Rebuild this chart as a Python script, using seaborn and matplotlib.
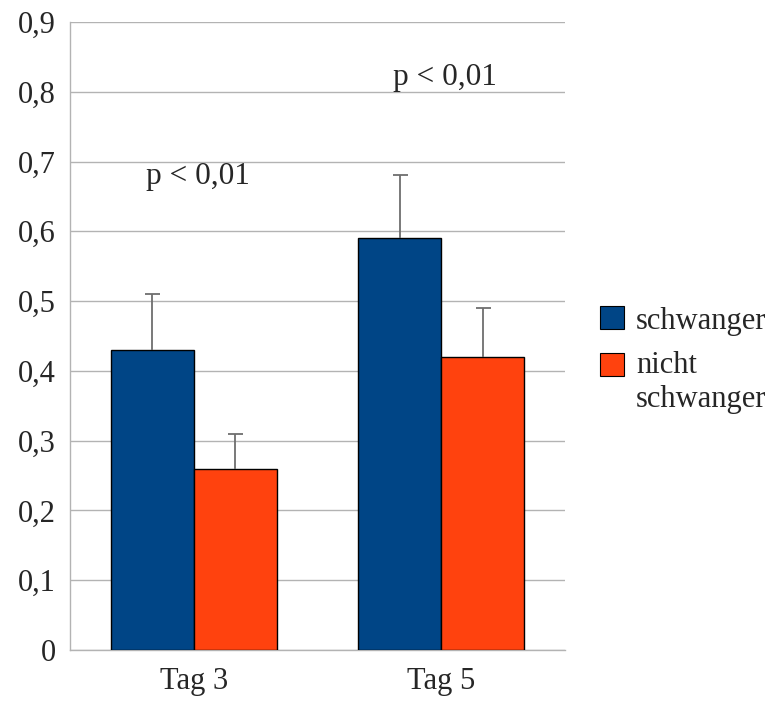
import pandas as pd
import seaborn as sns
import matplotlib.pyplot as plt
from matplotlib.ticker import FuncFormatter, FixedLocator
from matplotlib.patches import Patch

# Data
tage = ["Tag 3", "Tag 5"]
gruppen = ["schwanger", "nicht\nschwanger"]
schwanger = [0.43, 0.59]
nicht_schwanger = [0.26, 0.42]
err_schwanger = [0.08, 0.09]
err_nicht = [0.05, 0.07]
p_labels = ["p < 0,01", "p < 0,01"]
p_heights = [0.678, 0.82]

colors = ["#004586", "#ff420e"]

df = pd.DataFrame({
    "tag": tage * 2,
    "gruppe": [gruppen[0]] * 2 + [gruppen[1]] * 2,
    "wert": schwanger + nicht_schwanger,
    "err": err_schwanger + err_nicht,
})

sns.set_style("white")
plt.rcParams["font.family"] = ["Liberation Serif", "DejaVu Serif"]

fig = plt.figure(figsize=(7.76, 7.02), dpi=100)
ax = fig.add_axes([0.0902, 0.0741, 0.6379, 0.8946])

sns.barplot(data=df, x="tag", y="wert", hue="gruppe", palette=colors,
            saturation=1, width=0.67, edgecolor="black", linewidth=1,
            errorbar=None, legend=False, ax=ax, zorder=3)

# upward-only error bars (line + top cap) at the bar centres
err_col = "#6e6e6e"
for bar, val, e in zip(ax.patches, df["wert"], df["err"]):
    xc = bar.get_x() + bar.get_width() / 2
    ax.vlines(xc, val, val + e, color=err_col, linewidth=1.3, zorder=4)
    ax.plot([xc], [val + e], marker="_", markersize=10.8, markeredgewidth=1.3,
            color=err_col, zorder=4)

# significance labels
for i, (lab, h) in enumerate(zip(p_labels, p_heights)):
    ax.text(i + 0.015, h, lab, ha="center", va="center", fontsize=22.5)

ax.set_ylim(0, 0.9)
ax.set_xlim(-0.5, 1.5)
ax.set_yticks([i / 10 for i in range(10)])
ax.yaxis.set_major_formatter(FuncFormatter(lambda v, _: f"{v:.1f}".replace(".", ",").replace("0,0", "0")))
ax.grid(axis="y", color="#b3b3b3", linewidth=1, zorder=0)
ax.set_axisbelow(True)

ax.xaxis.set_major_locator(FixedLocator([-0.5, 0.5, 1.5]))
ax.xaxis.set_minor_locator(FixedLocator([0, 1]))
ax.set_xticklabels([])
ax.set_xticklabels(tage, minor=True)
ax.tick_params(axis="x", which="major", direction="out", length=7, color="#b3b3b3", width=1)
ax.tick_params(axis="x", which="minor", length=0, labelsize=22, pad=12)
ax.tick_params(axis="y", direction="out", length=7, color="#b3b3b3", width=1, labelsize=22, pad=3)
ax.set_xlabel("")
ax.set_ylabel("")

for s in ["top", "right"]:
    ax.spines[s].set_visible(False)
for s in ["left", "bottom"]:
    ax.spines[s].set_color("#b3b3b3")
    ax.spines[s].set_linewidth(1)

handles = [Patch(facecolor=c, edgecolor="black", linewidth=0.8) for c in colors]
leg = fig.legend(handles, gruppen, loc="upper left", bbox_to_anchor=(0.757, 0.581),
                 frameon=False, fontsize=22, handlelength=0.785, handleheight=0.785,
                 handletextpad=0.4, labelspacing=0.52, borderaxespad=0)
# align second square with the first line of its two-line label
p2 = leg.get_patches()[1]
p2.set_y(p2.get_y() + 13.2)

fig.savefig("out.png", dpi=100)
